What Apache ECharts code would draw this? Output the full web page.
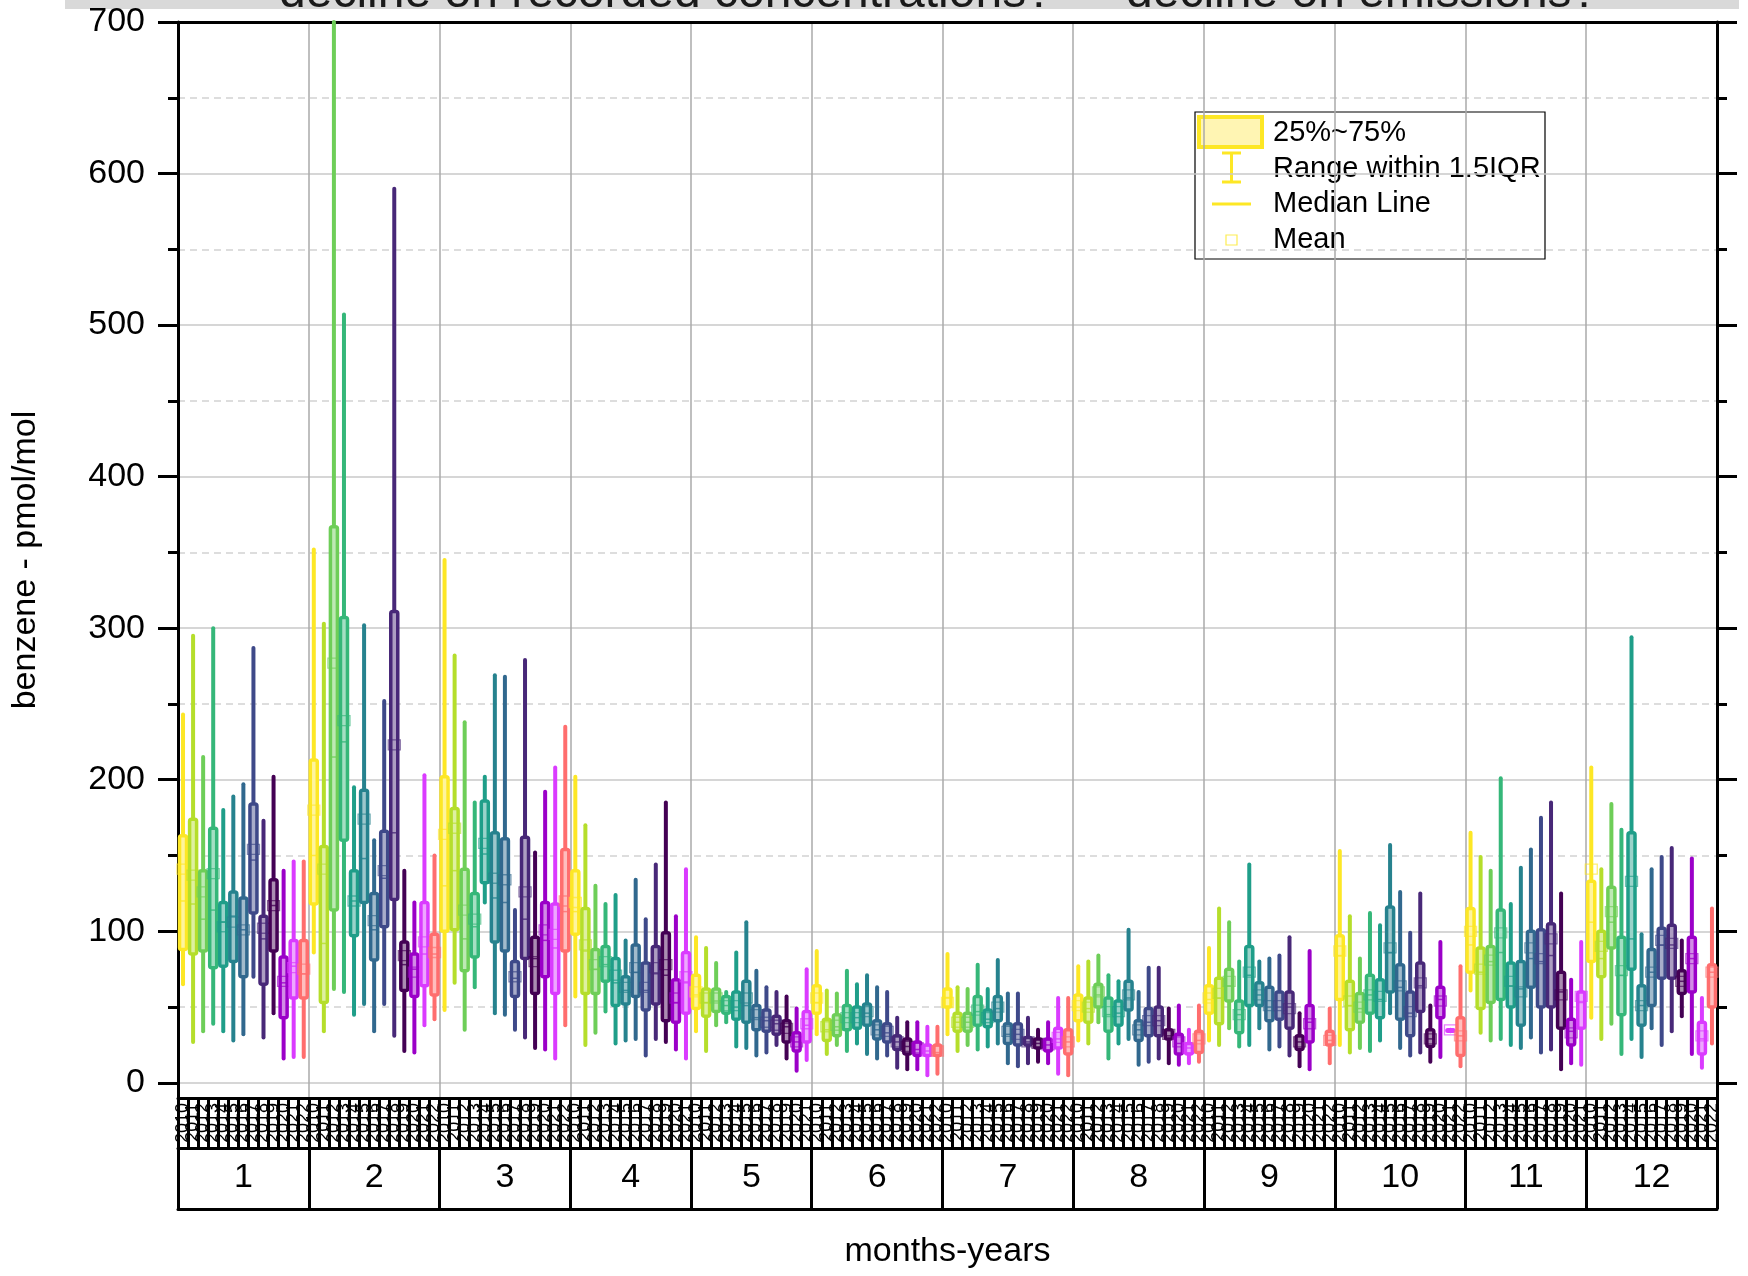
<!DOCTYPE html>
<html><head><meta charset="utf-8">
<script src="https://cdn.jsdelivr.net/npm/echarts@6/dist/echarts.min.js"></script>
<style>html,body{margin:0;padding:0;background:#fff}#c{width:1748px;height:1276px}</style>
</head><body><div id="c"></div>
<script>
const years = ['2010','2011','2012','2013','2014','2015','2016','2017','2018','2019','2020','2021','2022'];
const months = ['1','2','3','4','5','6','7','8','9','10','11','12'];
const yearColors = ['#FDE725','#B5DE2B','#6ECE58','#35B779','#1F9E89','#26828E','#31688E','#3E4989','#482878','#440154','#9B00C8','#DA3BFF','#FF6E6E'];
const yTicks = [0,100,200,300,400,500,600,700];
const yMinorTicks = [50,150,250,350,450,550,650];

const lowerWhisker = [
  [65,27,34,39,34,28,32,70,30,46,16,17,17],
  [86,34,62,60,45,52,34,52,31,21,20,38,42],
  [48,66,35,63,119,46,45,35,30,23,22,16,38],
  [57,25,33,47,26,28,29,18,29,27,22,16],
  [34,21,38,40,24,23,18,20,25,16,8,15],
  [32,19,25,21,26,19,16,18,10,9,9,5,6],
  [32,21,25,22,24,26,13,11,13,14,13,6,5],
  [28,26,40,16,26,29,12,14,16,13,12,13,14],
  [28,25,36,24,25,36,22,24,18,11,9,null,13],
  [25,20,23,21,28,46,23,18,20,14,17,34,11],
  [61,33,28,29,25,23,30,20,22,9,13,12],
  [43,29,39,19,29,17,36,25,34,44,19,10,26]
];
const q1 = [
  [88,85,87,76,77,80,70,112,65,87,43,56,56],
  [118,53,114,160,97,119,81,103,121,61,57,64,58],
  [100,101,74,83,132,93,87,57,82,59,70,59,87],
  [98,59,59,67,51,52,57,48,52,41,40,46],
  [49,44,47,46,42,40,35,34,32,27,21,27],
  [46,28,31,35,36,38,29,27,22,19,18,18,18],
  [50,34,34,38,37,41,26,25,25,23,21,23,19],
  [41,40,50,34,38,48,28,31,31,29,19,19,20],
  [46,39,54,33,51,51,41,42,36,22,27,null,25],
  [55,35,40,46,43,60,42,31,47,24,43,34,18],
  [73,49,53,55,50,38,63,50,50,36,25,36],
  [80,70,89,45,75,38,51,69,69,59,60,19,50]
];
const median = [
  [120,118,108,114,106,110,101,147,95,117,66,77,72],
  [150,92,215,225,120,148,101,135,165,78,75,85,85],
  [130,140,95,103,151,122,119,69,108,82,94,89,113],
  [113,87,75,78,66,61,73,61,72,71,53,66],
  [58,53,54,51,50,51,43,41,39,37,27,38],
  [53,35,37,43,43,46,35,33,27,24,22,21,20],
  [56,40,40,47,42,49,32,32,27,26,25,29,27],
  [50,49,58,45,46,56,35,40,41,31,26,23,28],
  [55,56,64,45,71,58,50,50,50,27,40,null,28],
  [84,51,49,58,55,86,63,46,64,29,55,35,31],
  [91,73,80,86,64,62,82,80,84,60,34,53],
  [106,82,106,71,95,51,73,91,91,67,82,29,73]
];
const q3 = [
  [163,174,140,168,119,126,122,184,110,134,83,94,94],
  [213,156,367,307,140,193,125,166,311,93,85,119,98],
  [202,181,141,125,186,165,161,80,162,96,119,118,154],
  [140,115,88,90,82,70,91,79,90,99,68,86],
  [71,62,62,57,60,67,51,48,44,41,33,47],
  [64,42,45,51,50,52,41,39,31,29,27,25,25],
  [62,46,46,57,48,57,39,39,30,29,29,36,35],
  [58,56,65,56,54,67,41,49,50,35,32,26,34],
  [64,69,75,54,90,66,63,60,60,31,51,null,34],
  [97,67,59,71,68,116,78,60,79,35,63,35,43],
  [115,89,90,114,79,80,100,101,105,73,42,60],
  [133,100,129,96,165,64,88,102,104,74,96,40,78]
];
const upperWhisker = [
  [243,295,215,300,180,189,197,287,173,202,140,146,146],
  [352,303,700,507,195,302,160,252,590,140,119,203,150],
  [345,282,238,185,202,269,268,114,279,152,192,208,235],
  [202,170,130,118,124,94,134,108,144,185,110,141],
  [96,89,79,60,86,106,74,63,60,57,49,75],
  [87,61,59,74,65,71,63,60,43,40,40,37,37],
  [85,63,62,78,62,81,59,59,43,35,40,56,56],
  [77,80,84,71,67,101,60,76,76,49,51,35,51],
  [89,115,106,80,144,80,82,84,96,46,87,null,49],
  [153,110,82,112,104,157,126,99,125,51,93,35,77],
  [165,149,140,201,118,142,154,175,185,125,68,93],
  [208,141,184,167,294,98,141,149,155,94,148,56,115]
];
const mean = [
  [141,137,126,138,103,106,101,154,102,117,67,76,75],
  [180,141,277,239,120,174,107,140,223,84,73,93,86],
  [164,168,114,108,158,135,134,70,126,80,101,98,120],
  [119,91,78,80,71,63,76,63,76,78,56,70],
  [60,56,56,51,51,56,45,40,38,36,27,39],
  [56,37,38,43,43,47,35,34,27,24,23,21,21],
  [53,40,40,48,43,50,34,32,27,26,25,30,27],
  [51,50,60,47,47,58,35,41,41,32,27,23,29],
  [56,59,67,45,73,58,51,51,49,27,39,null,28],
  [87,54,50,58,57,89,64,47,66,29,54,35,31],
  [100,75,81,99,67,60,89,82,95,58,33,57],
  [141,90,113,74,133,51,73,94,92,67,82,31,73]
];

// ---- build categories & items ----
const categories = [];
const monthStart = [];
const monthCount = [];
const items = [];
for (let m = 0; m < months.length; m++) {
  monthStart.push(categories.length);
  monthCount.push(q1[m].length);
  for (let y = 0; y < q1[m].length; y++) {
    const idx = categories.length;
    categories.push(months[m] + '-' + years[y]);
    if (q1[m][y] != null) {
      items.push([idx, lowerWhisker[m][y], q1[m][y], median[m][y], q3[m][y], upperWhisker[m][y], mean[m][y], y]);
    }
  }
}
const monthStartSet = new Set(monthStart);
const monthLabelIdx = {};
monthStart.forEach((s, m) => { monthLabelIdx[s + 6] = m; });

function mix(hex, t) {
  const r = parseInt(hex.slice(1,3),16), g = parseInt(hex.slice(3,5),16), b = parseInt(hex.slice(5,7),16);
  const f = v => Math.round(v + (255 - v) * t);
  return 'rgb(' + f(r) + ',' + f(g) + ',' + f(b) + ')';
}
const paleColors = yearColors.map(c => mix(c, 0.55));

function renderBox(params, api) {
  const x = api.value(0);
  const yi = api.value(7);
  const c = yearColors[yi];
  const pLo = api.coord([x, api.value(1)]);
  const pQ1 = api.coord([x, api.value(2)]);
  const pMd = api.coord([x, api.value(3)]);
  const pQ3 = api.coord([x, api.value(4)]);
  const pHi = api.coord([x, api.value(5)]);
  const pMn = api.coord([x, api.value(6)]);
  const cx = pQ1[0];
  const bw = 7;
  return {
    type: 'group',
    children: [
      { type: 'line', shape: { x1: cx, y1: pLo[1], x2: cx, y2: pHi[1] }, style: { stroke: c, lineWidth: 4, lineCap: 'round' } },
      { type: 'rect', shape: { x: cx - bw / 2, y: pQ3[1], width: bw, height: Math.max(pQ1[1] - pQ3[1], 1), r: 2 }, style: { fill: paleColors[yi], stroke: c, lineWidth: 3.5 } },
      { type: 'line', shape: { x1: cx - bw / 2, y1: pMd[1], x2: cx + bw / 2, y2: pMd[1] }, style: { stroke: c, lineWidth: 1.5, opacity: 0.8 } },
      { type: 'rect', shape: { x: cx - 6, y: pMn[1] - 5, width: 12, height: 10 }, style: { fill: 'none', stroke: c, lineWidth: 1.3, opacity: 0.65 } }
    ]
  };
}

const FONT = '"Liberation Sans", Arial, sans-serif';
const chart = echarts.init(document.getElementById('c'), null, { renderer: 'canvas' });
const option = {
  backgroundColor: '#ffffff',
  animation: false,
  textStyle: { fontFamily: FONT },
  grid: { left: 178, right: 31, top: 22, bottom: 178, containLabel: false },
  xAxis: [
    {
      type: 'category', data: categories, position: 'bottom', boundaryGap: true,
      axisLine: { show: true, onZero: false, lineStyle: { color: '#000', width: 3 } },
      axisTick: { show: true, interval: 0, alignWithLabel: false, length: 50, lineStyle: { color: '#000', width: 3 } },
      axisLabel: { show: true, interval: 0, rotate: 90, fontSize: 18, color: '#000', margin: 5, hideOverlap: false,
        formatter: v => v.split('-')[1] },
      splitLine: { show: false },
      name: 'months-years', nameLocation: 'middle', nameGap: 137,
      nameTextStyle: { fontSize: 34, color: '#000', fontFamily: FONT }
    },
    {
      type: 'category', data: categories, position: 'bottom', offset: 50, boundaryGap: true,
      axisLine: { show: true, onZero: false, lineStyle: { color: '#000', width: 3 } },
      axisTick: { show: true, alignWithLabel: false, length: 61, interval: (i) => monthStartSet.has(i), lineStyle: { color: '#000', width: 3 } },
      axisLabel: { show: true, interval: (i) => (i in monthLabelIdx), fontSize: 34, color: '#000', margin: 13, hideOverlap: false,
        formatter: (v, i) => {
          const m = v.split('-')[0];
          const mi = months.indexOf(m);
          return monthCount[mi] === 12 ? '{s|' + m + '}' : m;
        },
        rich: { s: { fontSize: 34, color: '#000', padding: [0, 10, 0, 0], fontFamily: FONT } } },
      splitLine: { show: true, interval: (i) => monthStartSet.has(i), lineStyle: { color: '#aaaaaa', width: 1.5 } }
    },
    {
      type: 'category', data: categories, position: 'bottom', offset: 111,
      axisLine: { show: true, onZero: false, lineStyle: { color: '#000', width: 3 } },
      axisTick: { show: false }, axisLabel: { show: false }, splitLine: { show: false }
    },
    {
      type: 'category', data: categories, position: 'top',
      axisLine: { show: true, onZero: false, lineStyle: { color: '#000', width: 3 } },
      axisTick: { show: false }, axisLabel: { show: false }, splitLine: { show: false }
    }
  ],
  yAxis: [
    {
      type: 'value', min: -10, max: 700, position: 'left',
      axisLine: { show: true, onZero: false, lineStyle: { color: '#000', width: 3 } },
      axisTick: { show: true, inside: false, length: 20, customValues: yTicks, lineStyle: { color: '#000', width: 3 } },
      axisLabel: { show: true, customValues: yTicks, fontSize: 34, color: '#000', margin: 33 },
      splitLine: { show: true, lineStyle: { color: '#c8c8c8', width: 1.5 } },
      name: 'benzene - pmol/mol', nameLocation: 'middle', nameGap: 135,
      nameTextStyle: { fontSize: 34, color: '#000', fontFamily: FONT }
    },
    {
      type: 'value', min: -10, max: 700, position: 'left',
      axisLine: { show: false },
      axisTick: { show: true, inside: false, length: 10, customValues: yMinorTicks, lineStyle: { color: '#000', width: 3 } },
      axisLabel: { show: false },
      splitLine: { show: true, lineStyle: { color: '#d2d2d2', width: 1.5, type: [7, 5] } }
    },
    {
      type: 'value', min: -10, max: 700, position: 'right',
      axisLine: { show: true, onZero: false, lineStyle: { color: '#000', width: 3 } },
      axisTick: { show: true, inside: false, length: 20, customValues: yTicks, lineStyle: { color: '#000', width: 3 } },
      axisLabel: { show: false }, splitLine: { show: false }
    },
    {
      type: 'value', min: -10, max: 700, position: 'right',
      axisLine: { show: false },
      axisTick: { show: true, inside: false, length: 10, customValues: yMinorTicks, lineStyle: { color: '#000', width: 3 } },
      axisLabel: { show: false }, splitLine: { show: false }
    }
  ],
  series: [
    {
      type: 'custom', name: 'benzene', coordinateSystem: 'cartesian2d', xAxisIndex: 0, yAxisIndex: 0,
      renderItem: renderBox, encode: { x: 0, y: [1, 2, 3, 4, 5] }, data: items, z: 5
    }
  ],
  graphic: [
    { type: 'rect', shape: { x: 65, y: 0, width: 1674, height: 9 }, style: { fill: '#d9d9d9' }, z: 0 },
    { type: 'text', x: 279, y: 18, style: { text: 'decline on recorded concentrations?', font: '48px ' + FONT, fill: '#1a1a1a', verticalAlign: 'bottom' }, z: 1 },
    { type: 'text', x: 1126, y: 18, style: { text: 'decline on emissions?', font: '48px ' + FONT, fill: '#1a1a1a', verticalAlign: 'bottom' }, z: 1 },
    {
      type: 'group', z: 100, children: [
        { type: 'rect', shape: { x: 1195, y: 112, width: 350, height: 147 }, style: { fill: '#fff', stroke: '#000', lineWidth: 1.2 } },
        { type: 'rect', shape: { x: 1199, y: 117, width: 63, height: 30 }, style: { fill: '#FFF5B3', stroke: '#FDE725', lineWidth: 4 } },
        { type: 'line', shape: { x1: 1231.5, y1: 153, x2: 1231.5, y2: 182 }, style: { stroke: '#FDE725', lineWidth: 3 } },
        { type: 'line', shape: { x1: 1222, y1: 153, x2: 1241, y2: 153 }, style: { stroke: '#FDE725', lineWidth: 3 } },
        { type: 'line', shape: { x1: 1222, y1: 182, x2: 1241, y2: 182 }, style: { stroke: '#FDE725', lineWidth: 3 } },
        { type: 'line', shape: { x1: 1212, y1: 204, x2: 1251, y2: 204 }, style: { stroke: '#FDE725', lineWidth: 3 } },
        { type: 'rect', shape: { x: 1226, y: 235, width: 11, height: 10 }, style: { fill: 'none', stroke: '#FDE725', lineWidth: 1.2, opacity: 0.8 } },
        { type: 'text', x: 1273, y: 133, style: { text: '25%~75%', font: '29px ' + FONT, fill: '#000', verticalAlign: 'middle' } },
        { type: 'text', x: 1273, y: 169, style: { text: 'Range within 1.5IQR', font: '29px ' + FONT, fill: '#000', verticalAlign: 'middle' } },
        { type: 'text', x: 1273, y: 204, style: { text: 'Median Line', font: '29px ' + FONT, fill: '#000', verticalAlign: 'middle' } },
        { type: 'text', x: 1273, y: 240, style: { text: 'Mean', font: '29px ' + FONT, fill: '#000', verticalAlign: 'middle' } }
      ]
    }
  ]
};
chart.setOption(option);
</script>
</body></html>
